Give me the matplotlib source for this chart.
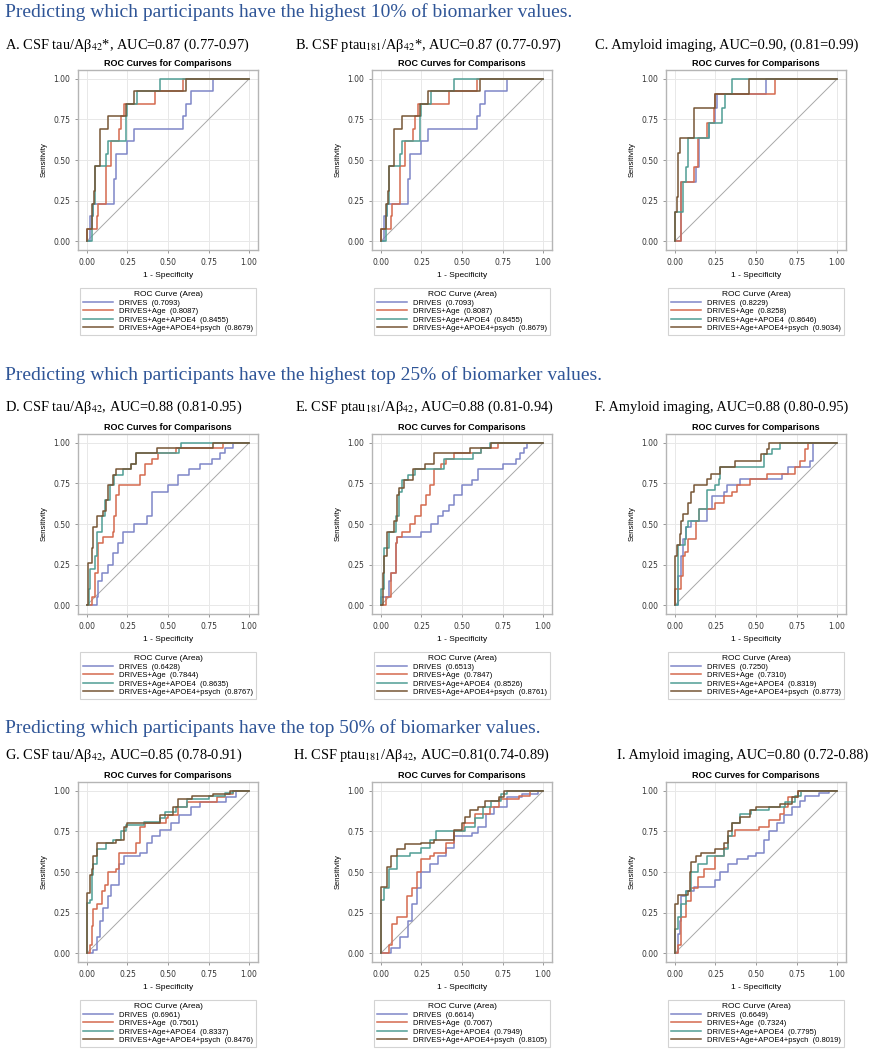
import matplotlib
matplotlib.use("Agg")
import matplotlib.pyplot as plt

# -- Data ---------------------------------------------------------------------
# each curve: x where the step goes up (1 - specificity), level reached (sensitivity)
models = ["DRIVES", "DRIVES+Age", "DRIVES+Age+APOE4", "DRIVES+Age+APOE4+psych"]
colors = ["#7F86C8", "#D46A4E", "#4F9E94", "#765636"]

section_titles = [
    "Predicting which participants have the highest 10% of biomarker values.",
    "Predicting which participants have the highest top 25% of biomarker values.",
    "Predicting which participants have the top 50% of biomarker values.",
]

panel_titles = [
    "A. CSF tau/A\u03b2$_{42}$*, AUC=0.87 (0.77-0.97)",
    "B. CSF ptau$_{181}$/A\u03b2$_{42}$*, AUC=0.87 (0.77-0.97)",
    "C. Amyloid imaging, AUC=0.90, (0.81=0.99)",
    "D. CSF tau/A\u03b2$_{42}$, AUC=0.88 (0.81-0.95)",
    "E. CSF ptau$_{181}$/A\u03b2$_{42}$, AUC=0.88 (0.81-0.94)",
    "F. Amyloid imaging, AUC=0.88 (0.80-0.95)",
    "G. CSF tau/A\u03b2$_{42}$, AUC=0.85 (0.78-0.91)",
    "H. CSF ptau$_{181}$/A\u03b2$_{42}$, AUC=0.81(0.74-0.89)",
    "I. Amyloid imaging, AUC=0.80 (0.72-0.88)",
]

auc_A = [0.7093, 0.8087, 0.8455, 0.8679]
auc_B = [0.7093, 0.8087, 0.8455, 0.8679]
auc_C = [0.8229, 0.8258, 0.8646, 0.9034]
auc_D = [0.6428, 0.7844, 0.8635, 0.8767]
auc_E = [0.6513, 0.7847, 0.8526, 0.8761]
auc_F = [0.7250, 0.7310, 0.8319, 0.8773]
auc_G = [0.6961, 0.7501, 0.8337, 0.8476]
auc_H = [0.6614, 0.7067, 0.7949, 0.8105]
auc_I = [0.6649, 0.7324, 0.7795, 0.8019]

fpr_A = [
    [0.02, 0.02, 0.04, 0.165, 0.18, 0.25, 0.29, 0.59, 0.61, 0.64, 0.78],
    [0.0, 0.06, 0.07, 0.12, 0.15, 0.20, 0.21, 0.23, 0.42, 0.59],
    [0.03, 0.04, 0.05, 0.12, 0.13, 0.24, 0.25, 0.31, 0.45],
    [0.0, 0.03, 0.045, 0.05, 0.08, 0.13, 0.24, 0.29, 0.61],
]
tpr_A = [
    [0.077, 0.154, 0.231, 0.385, 0.538, 0.615, 0.692, 0.769, 0.846, 0.923, 1.0],
    [0.077, 0.154, 0.231, 0.462, 0.615, 0.692, 0.769, 0.846, 0.923, 1.0],
    [0.154, 0.231, 0.462, 0.538, 0.615, 0.769, 0.846, 0.923, 1.0],
    [0.077, 0.231, 0.308, 0.462, 0.692, 0.769, 0.846, 0.923, 1.0],
]
fpr_B = fpr_A
tpr_B = tpr_A

fpr_C = [
    [0.04, 0.13, 0.15, 0.21, 0.25, 0.26, 0.56],
    [0.04, 0.12, 0.14, 0.20, 0.24, 0.25, 0.62],
    [0.0, 0.05, 0.07, 0.08, 0.21, 0.29, 0.31, 0.355],
    [0.0, 0.01, 0.02, 0.03, 0.12, 0.25, 0.455],
]
tpr_C = [
    [0.364, 0.455, 0.636, 0.727, 0.818, 0.909, 1.0],
    [0.364, 0.455, 0.636, 0.727, 0.818, 0.909, 1.0],
    [0.182, 0.364, 0.455, 0.636, 0.727, 0.818, 0.909, 1.0],
    [0.182, 0.273, 0.545, 0.636, 0.818, 0.909, 1.0],
]

fpr_D = [
    [0.06, 0.07, 0.09, 0.13, 0.16, 0.19, 0.22, 0.29, 0.37, 0.40, 0.50, 0.56, 0.63, 0.70, 0.77, 0.82, 0.85, 0.90],
    [0.03, 0.05, 0.07, 0.10, 0.16, 0.17, 0.18, 0.20, 0.33, 0.36, 0.40, 0.44, 0.55, 0.84],
    [0.01, 0.02, 0.05, 0.06, 0.09, 0.11, 0.14, 0.17, 0.22, 0.27, 0.30, 0.57, 0.58],
    [0.005, 0.03, 0.04, 0.06, 0.10, 0.12, 0.13, 0.16, 0.18, 0.27, 0.30, 0.43, 0.78],
]
tpr_D = [
    [0.05, 0.15, 0.20, 0.25, 0.32, 0.38, 0.45, 0.50, 0.55, 0.70, 0.74, 0.80, 0.84, 0.87, 0.90, 0.94, 0.97, 1.0],
    [0.05, 0.20, 0.38, 0.42, 0.45, 0.55, 0.68, 0.74, 0.80, 0.87, 0.90, 0.94, 0.97, 1.0],
    [0.10, 0.22, 0.30, 0.45, 0.55, 0.65, 0.74, 0.80, 0.84, 0.87, 0.94, 0.97, 1.0],
    [0.26, 0.35, 0.48, 0.55, 0.58, 0.65, 0.74, 0.80, 0.84, 0.87, 0.94, 0.97, 1.0],
]

fpr_E = [
    [0.0, 0.05, 0.06, 0.09, 0.10, 0.25, 0.31, 0.35, 0.38, 0.42, 0.45, 0.50, 0.56, 0.60, 0.75, 0.83, 0.86, 0.88, 0.90],
    [0.03, 0.06, 0.09, 0.10, 0.13, 0.18, 0.21, 0.25, 0.28, 0.30, 0.33, 0.37, 0.40, 0.45, 0.62, 0.72],
    [0.0, 0.02, 0.05, 0.09, 0.11, 0.13, 0.17, 0.21, 0.39, 0.57, 0.62, 0.67],
    [0.01, 0.02, 0.04, 0.08, 0.10, 0.11, 0.14, 0.20, 0.27, 0.33, 0.55, 0.68],
]
tpr_E = [
    [0.05, 0.15, 0.20, 0.38, 0.42, 0.45, 0.50, 0.55, 0.58, 0.62, 0.68, 0.74, 0.77, 0.84, 0.87, 0.90, 0.94, 0.97, 1.0],
    [0.05, 0.20, 0.38, 0.42, 0.45, 0.50, 0.55, 0.62, 0.68, 0.74, 0.84, 0.87, 0.90, 0.94, 0.97, 1.0],
    [0.10, 0.35, 0.45, 0.55, 0.70, 0.77, 0.80, 0.84, 0.90, 0.94, 0.97, 1.0],
    [0.20, 0.30, 0.45, 0.52, 0.68, 0.72, 0.77, 0.84, 0.87, 0.94, 0.97, 1.0],
]

fpr_F = [
    [0.02, 0.04, 0.05, 0.07, 0.10, 0.20, 0.23, 0.30, 0.32, 0.40, 0.66, 0.70, 0.83, 0.85],
    [0.0, 0.04, 0.05, 0.06, 0.08, 0.13, 0.15, 0.25, 0.30, 0.35, 0.38, 0.46, 0.57, 0.74, 0.77, 0.80, 0.82],
    [0.02, 0.06, 0.07, 0.08, 0.15, 0.20, 0.25, 0.27, 0.28, 0.55, 0.60, 0.65],
    [0.0, 0.01, 0.03, 0.04, 0.05, 0.08, 0.10, 0.12, 0.20, 0.22, 0.28, 0.37, 0.53, 0.57, 0.58],
]
tpr_F = [
    [0.18, 0.30, 0.41, 0.48, 0.52, 0.59, 0.67, 0.70, 0.74, 0.78, 0.81, 0.85, 0.89, 1.0],
    [0.10, 0.18, 0.30, 0.33, 0.41, 0.52, 0.59, 0.63, 0.67, 0.70, 0.74, 0.78, 0.81, 0.85, 0.89, 0.96, 1.0],
    [0.37, 0.41, 0.48, 0.52, 0.59, 0.71, 0.74, 0.78, 0.85, 0.93, 0.96, 1.0],
    [0.30, 0.37, 0.44, 0.52, 0.56, 0.63, 0.70, 0.74, 0.78, 0.81, 0.85, 0.89, 0.93, 0.96, 1.0],
]

fpr_G = [
    [0.04, 0.06, 0.08, 0.10, 0.13, 0.15, 0.20, 0.23, 0.33, 0.37, 0.40, 0.45, 0.52, 0.57, 0.64, 0.70, 0.86, 0.92],
    [0.02, 0.03, 0.04, 0.06, 0.09, 0.11, 0.13, 0.18, 0.20, 0.30, 0.33, 0.36, 0.49, 0.50, 0.56, 0.62, 0.80, 0.85, 0.90],
    [0.0, 0.02, 0.03, 0.04, 0.06, 0.12, 0.16, 0.21, 0.24, 0.35, 0.45, 0.48, 0.55, 0.62, 0.75, 0.85, 0.90],
    [0.0, 0.02, 0.03, 0.04, 0.06, 0.18, 0.23, 0.25, 0.45, 0.53, 0.56, 0.65, 0.78, 0.88],
]
tpr_G = [
    [0.02, 0.10, 0.20, 0.28, 0.35, 0.42, 0.55, 0.60, 0.62, 0.68, 0.72, 0.76, 0.80, 0.85, 0.90, 0.93, 0.96, 1.0],
    [0.05, 0.17, 0.27, 0.30, 0.38, 0.42, 0.50, 0.52, 0.62, 0.68, 0.78, 0.80, 0.83, 0.85, 0.90, 0.93, 0.96, 0.98, 1.0],
    [0.31, 0.33, 0.48, 0.55, 0.64, 0.68, 0.70, 0.75, 0.79, 0.81, 0.83, 0.87, 0.90, 0.95, 0.97, 0.99, 1.0],
    [0.37, 0.48, 0.52, 0.60, 0.68, 0.70, 0.78, 0.80, 0.85, 0.90, 0.95, 0.97, 0.98, 1.0],
]

fpr_H = [
    [0.06, 0.12, 0.17, 0.19, 0.22, 0.25, 0.30, 0.35, 0.40, 0.45, 0.56, 0.60, 0.65, 0.70, 0.78, 0.87, 0.97],
    [0.05, 0.07, 0.10, 0.16, 0.19, 0.22, 0.25, 0.30, 0.33, 0.40, 0.45, 0.51, 0.58, 0.67, 0.73, 0.85, 0.92],
    [0.0, 0.02, 0.05, 0.10, 0.18, 0.25, 0.30, 0.34, 0.52, 0.58, 0.63, 0.68, 0.74, 0.78],
    [0.0, 0.04, 0.06, 0.10, 0.15, 0.25, 0.33, 0.45, 0.50, 0.52, 0.55, 0.60, 0.64, 0.73, 0.76],
]
tpr_H = [
    [0.03, 0.10, 0.20, 0.30, 0.40, 0.50, 0.55, 0.60, 0.65, 0.72, 0.74, 0.78, 0.86, 0.90, 0.96, 0.98, 1.0],
    [0.05, 0.18, 0.22, 0.35, 0.40, 0.50, 0.58, 0.60, 0.62, 0.68, 0.75, 0.80, 0.86, 0.90, 0.95, 0.97, 1.0],
    [0.33, 0.40, 0.52, 0.60, 0.62, 0.65, 0.70, 0.75, 0.78, 0.83, 0.90, 0.94, 0.98, 1.0],
    [0.41, 0.53, 0.60, 0.64, 0.67, 0.68, 0.70, 0.76, 0.80, 0.84, 0.88, 0.90, 0.94, 0.96, 1.0],
]

fpr_I = [
    [0.02, 0.03, 0.04, 0.07, 0.12, 0.25, 0.28, 0.33, 0.38, 0.45, 0.50, 0.55, 0.58, 0.63, 0.67, 0.72, 0.77, 0.80, 0.89, 0.95],
    [0.02, 0.04, 0.07, 0.10, 0.14, 0.18, 0.25, 0.30, 0.33, 0.37, 0.52, 0.58, 0.65, 0.67, 0.70, 0.76],
    [0.0, 0.02, 0.04, 0.07, 0.10, 0.14, 0.20, 0.30, 0.33, 0.35, 0.40, 0.47, 0.58, 0.68, 0.74, 0.78],
    [0.0, 0.02, 0.08, 0.09, 0.10, 0.13, 0.16, 0.25, 0.30, 0.33, 0.35, 0.40, 0.46, 0.50, 0.65, 0.72, 0.76],
]
tpr_I = [
    [0.12, 0.20, 0.35, 0.38, 0.41, 0.45, 0.50, 0.55, 0.58, 0.60, 0.62, 0.70, 0.75, 0.80, 0.85, 0.90, 0.94, 0.97, 0.99, 1.0],
    [0.05, 0.22, 0.32, 0.40, 0.47, 0.52, 0.60, 0.65, 0.72, 0.76, 0.78, 0.82, 0.86, 0.90, 0.96, 1.0],
    [0.15, 0.22, 0.30, 0.38, 0.50, 0.55, 0.60, 0.64, 0.72, 0.80, 0.86, 0.88, 0.90, 0.93, 0.97, 1.0],
    [0.30, 0.36, 0.38, 0.50, 0.56, 0.60, 0.62, 0.64, 0.68, 0.75, 0.80, 0.84, 0.88, 0.90, 0.92, 0.96, 1.0],
]

all_fpr = [fpr_A, fpr_B, fpr_C, fpr_D, fpr_E, fpr_F, fpr_G, fpr_H, fpr_I]
all_tpr = [tpr_A, tpr_B, tpr_C, tpr_D, tpr_E, tpr_F, tpr_G, tpr_H, tpr_I]
all_auc = [auc_A, auc_B, auc_C, auc_D, auc_E, auc_F, auc_G, auc_H, auc_I]

# -- Layout (pixels) ----------------------------------------------------------
W, H = 875, 1050
plt.rcParams["mathtext.fontset"] = "stix"
serif = "Liberation Serif"
sans = "Liberation Sans"

fig = plt.figure(figsize=(W / 100, H / 100), dpi=100)
fig.patch.set_facecolor("white")

axes_left = [78, 372, 666]
axes_top = [70, 434, 782]
sec_y = [12, 375, 728]
title_y = [45, 407, 755]
title_x = [[5, 295, 595], [5, 295, 595], [5, 293, 617]]
size = 180


def fx(x):
    return x / W


def fy(y):
    return 1 - y / H


for r in range(3):
    fig.text(fx(5), fy(sec_y[r]), section_titles[r], fontsize=14, family=serif,
             color="#2F5597", va="center", ha="left")
    for c in range(3):
        k = r * 3 + c
        fig.text(fx(title_x[r][c]), fy(title_y[r]), panel_titles[k], fontsize=10.4,
                 family=serif, va="center", ha="left")

        ax = fig.add_axes([fx(axes_left[c]), fy(axes_top[r] + size), size / W, size / H])
        ax.set_xlim(-0.055, 1.055)
        ax.set_ylim(-0.055, 1.055)
        ticks = [0, 0.25, 0.5, 0.75, 1.0]
        ax.set_xticks(ticks)
        ax.set_yticks(ticks)
        ax.set_xticklabels(["%.2f" % t for t in ticks])
        ax.set_yticklabels(["%.2f" % t for t in ticks])
        ax.tick_params(labelsize=5.5, length=2.5, width=0.6, color="#888888",
                       labelcolor="#333333", pad=3)
        ax.grid(color="#E8E8E8", lw=0.7)
        ax.set_axisbelow(True)
        for s in ax.spines.values():
            s.set_color("#B5B5B5")
            s.set_linewidth(1.0)
        ax.plot([0, 1], [0, 1], color="#A8A8A8", lw=0.7)

        for i in range(4):
            xs = [0] + all_fpr[k][i] + [1]
            ys = [0] + all_tpr[k][i] + [1]
            ax.plot(xs, ys, drawstyle="steps-post", color=colors[i], lw=1.1,
                    label="%s  (%.4f)" % (models[i], all_auc[k][i]))

        ax.set_title("ROC Curves for Comparisons", fontsize=6.5, fontweight="bold",
                     family=sans, pad=3)
        ax.set_xlabel("1 - Specificity", fontsize=6, family=sans, labelpad=4)
        ax.set_ylabel("Sensitivity", fontsize=5.5, family=sans, labelpad=4)
        leg = ax.legend(loc="upper center", bbox_to_anchor=(0.5, -0.19),
                        title="ROC Curve (Area)", fontsize=5.5, title_fontsize=6,
                        frameon=True, fancybox=False, edgecolor="#C8C8C8",
                        handlelength=4, borderpad=0.4, labelspacing=0.15,
                        handletextpad=0.8)
        leg.get_frame().set_linewidth(0.8)
        for t in leg.get_texts():
            t.set_family(sans)
        leg.get_title().set_family(sans)

plt.savefig("out.png", dpi=100)
